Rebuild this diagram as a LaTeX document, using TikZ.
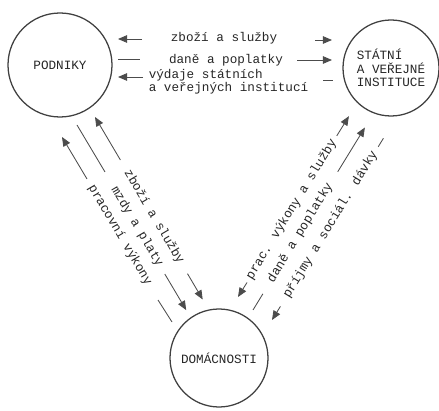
\documentclass[tikz,border=0pt]{standalone}
\usepackage{fontspec}
\setmainfont{Liberation Mono}
\usepackage{tikz}
\usetikzlibrary{arrows.meta}

\begin{document}
\begin{tikzpicture}[-, auto, font=\fontsize{9}{9.4}\selectfont,
        sector/.style={circle, draw=black!75, line width=0.9pt, text=black!85},
        tip/.style={-{Triangle[length=2.3mm, width=1.9mm]}},
        every edge/.style={draw=black!70, line width=0.6pt},
        flowtext/.style={inner sep=0pt, text=black!85}]
        \useasboundingbox (0, 0) rectangle (10.975, 10.25);

        \node[sector, minimum size=2.6cm](P) at (1.5, 8.625){PODNIKY};
        \node[sector, minimum size=2.4cm, align=left](S) at (9.775, 8.55){STÁTNÍ\\A VEŘEJNÉ\\INSTITUCE};
        \node[sector, minimum size=2.45cm](D) at (5.475, 1.3){DOMÁCNOSTI};

        % podniky - stat
        \node[flowtext](PS1) at (5.6, 9.3){zboží a služby};
        \coordinate(PS1_l1) at (2.95, 9.275);
        \coordinate(PS1_l2) at (3.55, 9.275);
        \coordinate(PS1_r1) at (7.875, 9.25);
        \coordinate(PS1_r2) at (8.3, 9.25);
        \path(PS1_l2) edge[tip] (PS1_l1);
        \path(PS1_r1) edge[tip] (PS1_r2);

        \node[flowtext](PS2) at (5.65, 8.75){daně a poplatky};
        \coordinate(PS2_l1) at (2.95, 8.775);
        \coordinate(PS2_l2) at (3.5, 8.775);
        \coordinate(PS2_r1) at (7.425, 8.75);
        \coordinate(PS2_r2) at (8.3, 8.75);
        \path(PS2_l1) edge (PS2_l2);
        \path(PS2_r1) edge[tip] (PS2_r2);

        \node[flowtext, align=left](PS3) at (5.7125, 8.2125){výdaje státních\\a veřejných institucí};
        \coordinate(PS3_l1) at (2.95, 8.325);
        \coordinate(PS3_l2) at (3.575, 8.325);
        \coordinate(PS3_r1) at (8.075, 8.25);
        \coordinate(PS3_r2) at (8.325, 8.25);
        \path(PS3_l2) edge[tip] (PS3_l1);
        \path(PS3_r1) edge (PS3_r2);

        % podniky - domacnosti
        \node[flowtext, rotate=-59.5](PD1) at (3.85, 4.825){zboží a služby};
        \coordinate(PD1_t1) at (2.375, 7.325);
        \coordinate(PD1_t2) at (3.01, 6.25);
        \coordinate(PD1_b1) at (4.6875, 3.4075);
        \coordinate(PD1_b2) at (5.0675, 2.7625);
        \path(PD1_t2) edge[tip] (PD1_t1);
        \path(PD1_b1) edge[tip] (PD1_b2);

        \node[flowtext, rotate=-59.5](PD2) at (3.425, 4.585){mzdy a platy};
        \coordinate(PD2_t1) at (1.925, 7.125);
        \coordinate(PD2_t2) at (2.625, 5.95);
        \coordinate(PD2_b1) at (4.12, 3.4);
        \coordinate(PD2_b2) at (4.655, 2.4975);
        \path(PD2_t1) edge (PD2_t2);
        \path(PD2_b1) edge[tip] (PD2_b2);

        \node[flowtext, rotate=-59.5](PD3) at (3.0, 4.375){pracovní výkony};
        \coordinate(PD3_t1) at (1.55, 6.825);
        \coordinate(PD3_t2) at (2.175, 5.775);
        \coordinate(PD3_b1) at (3.95, 2.75);
        \coordinate(PD3_b2) at (4.3, 2.2);
        \path(PD3_t2) edge[tip] (PD3_t1);
        \path(PD3_b1) edge (PD3_b2);

        % stat - domacnosti
        \node[flowtext, rotate=58.5](SD1) at (7.29, 5.01){prac. výkony a služby};
        \coordinate(SD1_b1) at (5.95, 2.825);
        \coordinate(SD1_b2) at (6.175, 3.1875);
        \coordinate(SD1_t1) at (8.42, 6.855);
        \coordinate(SD1_t2) at (8.7225, 7.345);
        \path(SD1_b2) edge[tip] (SD1_b1);
        \path(SD1_t1) edge[tip] (SD1_t2);

        \node[flowtext, rotate=58.5](SD2) at (7.5075, 4.43){daně a poplatky};
        \coordinate(SD2_b1) at (6.325, 2.5);
        \coordinate(SD2_b2) at (6.5725, 2.905);
        \coordinate(SD2_t1) at (8.4425, 5.955);
        \coordinate(SD2_t2) at (9.1225, 7.0625);
        \path(SD2_b1) edge (SD2_b2);
        \path(SD2_t1) edge[tip] (SD2_t2);

        \node[flowtext, rotate=58.5](SD3) at (8.265, 4.6375){příjmy a sociál. dávky};
        \coordinate(SD3_b1) at (6.8, 2.25);
        \coordinate(SD3_b2) at (7.01, 2.59);
        \coordinate(SD3_t1) at (9.455, 6.58);
        \coordinate(SD3_t2) at (9.585, 6.7925);
        \path(SD3_b2) edge[tip] (SD3_b1);
        \path(SD3_t1) edge (SD3_t2);

    \end{tikzpicture}
\end{document}
